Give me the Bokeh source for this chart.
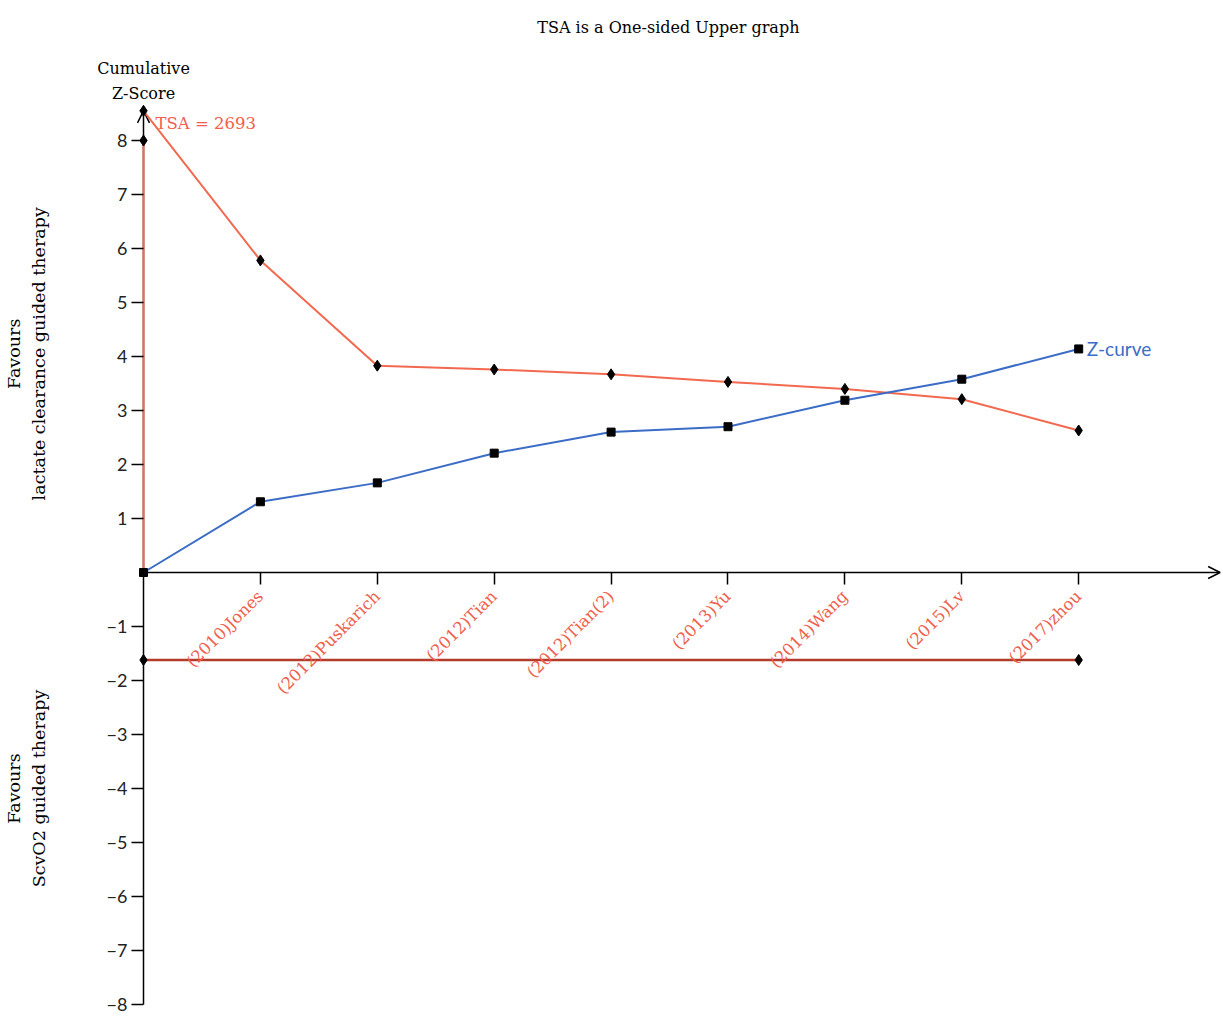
import math
from bokeh.plotting import figure
from bokeh.models import Range1d, LinearAxis, FixedTicker, Label, Arrow, OpenHead
from bokeh.embed import file_html
from bokeh.resources import INLINE

# ---------------- data ----------------
studies = ["(2010)Jones", "(2012)Puskarich", "(2012)Tian", "(2012)Tian(2)",
           "(2013)Yu", "(2014)Wang", "(2015)Lv", "(2017)zhou"]
study_pos = [1, 2, 3, 4, 5, 6, 7, 8]
curve_x = [0] + study_pos
z_curve = [0.0, 1.31, 1.66, 2.21, 2.60, 2.70, 3.19, 3.58, 4.14]
tsa_boundary = [8.55, 5.78, 3.83, 3.76, 3.67, 3.53, 3.40, 3.21, 2.63]
tsa_truncated_x = [0, 0]
tsa_truncated_y = [0.0, 8.0]
futility_x = [0, 8]
futility_y = [-1.62, -1.62]
y_ticks = [-8, -7, -6, -5, -4, -3, -2, -1, 1, 2, 3, 4, 5, 6, 7, 8]
title_text = "TSA is a One-sided Upper graph"
ylabel_text = "Cumulative\nZ-Score"
upper_label = "Favours\nlactate clearance guided therapy"
lower_label = "Favours\nScvO2 guided therapy"
tsa_label = "TSA = 2693"
z_label = "Z-curve"

RED = "#f2694f"
RED_TXT = "#f0604c"
DARK_RED = "#b23b2a"
BLUE = "#3b6cc6"
SERIF = "DejaVu Serif"
SANS = "Lato"

p = figure(width=1223, height=1021,
           x_range=Range1d(-1.2233, 9.2387), y_range=Range1d(-8.315, 10.593),
           output_backend="svg", toolbar_location=None,
           x_axis_type=None, y_axis_type=None, min_border=0)
p.outline_line_color = None
p.background_fill_color = "white"
p.border_fill_color = "white"

# axes at the origin
yaxis = LinearAxis(fixed_location=0, ticker=FixedTicker(ticks=y_ticks),
                   axis_line_color=None,
                   major_tick_out=12, major_tick_in=0,
                   minor_tick_out=0, minor_tick_in=0,
                   major_tick_line_color="black", major_tick_line_width=1.5,
                   major_label_standoff=4,
                   major_label_overrides={t: str(t).replace("-", "\u2212") for t in y_ticks},
                   major_label_text_font=SANS, major_label_text_font_size="18px",
                   major_label_text_color="#222222")
p.add_layout(yaxis, "left")

xaxis = LinearAxis(fixed_location=0, ticker=FixedTicker(ticks=study_pos),
                   axis_line_color=None,
                   major_tick_out=12, major_tick_in=0,
                   minor_tick_out=0, minor_tick_in=0,
                   major_tick_line_color="black", major_tick_line_width=1.5,
                   major_label_standoff=9,
                   major_label_orientation=math.pi / 4,
                   major_label_overrides={pos: name for pos, name in zip(study_pos, studies)},
                   major_label_text_font=SERIF, major_label_text_font_size="16.5px",
                   major_label_text_color=RED_TXT)
p.add_layout(xaxis, "below")

# axis lines with arrow heads
p.add_layout(Arrow(x_start=0, y_start=y_ticks[0], x_end=0, y_end=tsa_boundary[0],
                   line_color="black", line_width=1.5, level="underlay",
                   end=OpenHead(size=12, line_color="black", line_width=1.5)))
p.add_layout(Arrow(x_start=0, y_start=0, x_end=9.21, y_end=0,
                   line_color="black", line_width=1.5, level="underlay",
                   end=OpenHead(size=12, line_color="black", line_width=1.5)))

# TSA boundary
p.line(tsa_truncated_x, tsa_truncated_y, line_color=RED, line_width=2)
p.line(curve_x, tsa_boundary, line_color=RED, line_width=2)
p.scatter(curve_x, tsa_boundary, marker="diamond", size=11, color="black")
p.scatter(tsa_truncated_x[1:], tsa_truncated_y[1:], marker="diamond", size=11, color="black")

# futility line
p.line(futility_x, futility_y, line_color=DARK_RED, line_width=2.5)
p.scatter(futility_x, futility_y, marker="diamond", size=11, color="black")

# Z-curve
p.line(curve_x, z_curve, line_color=BLUE, line_width=2)
p.scatter(curve_x, z_curve, marker="square", size=8, color="black")

# texts
p.add_layout(Label(x=4.49, y=10.09, text=title_text, text_font=SERIF,
                   text_font_size="16px", text_color="black",
                   text_align="center", text_baseline="middle"))
p.add_layout(Label(x=0, y=9.1, text=ylabel_text, text_font=SERIF,
                   text_font_size="16px", text_color="black", text_line_height=1.3,
                   text_align="center", text_baseline="middle"))
p.add_layout(Label(x=-1.0, y=4.05, text=upper_label, text_font=SERIF,
                   text_font_size="17.5px", text_color="black", text_line_height=1.25,
                   angle=math.pi / 2, text_align="center", text_baseline="middle"))
p.add_layout(Label(x=-1.0, y=-4.0, text=lower_label, text_font=SERIF,
                   text_font_size="17.5px", text_color="black", text_line_height=1.25,
                   angle=math.pi / 2, text_align="center", text_baseline="middle"))
p.add_layout(Label(x=curve_x[0], y=tsa_boundary[0], x_offset=12, y_offset=-13,
                   text=tsa_label, text_font=SERIF, text_font_size="16.5px",
                   text_color=RED_TXT, text_align="left", text_baseline="middle"))
p.add_layout(Label(x=curve_x[-1], y=z_curve[-1], x_offset=8, y_offset=0,
                   text=z_label, text_font=SANS, text_font_size="19px",
                   text_color=BLUE, text_align="left", text_baseline="middle"))

open("out.html", "w").write(file_html(p, INLINE))
